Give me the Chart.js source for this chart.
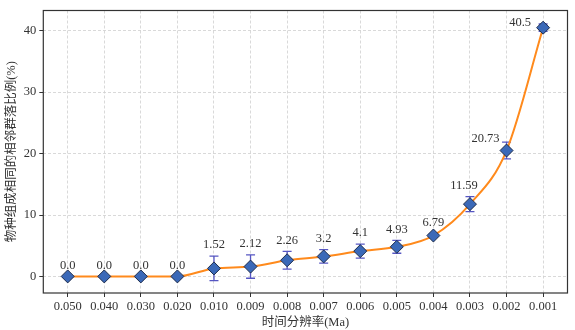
<!DOCTYPE html>
<html><head><meta charset="utf-8">
<script src="https://cdn.jsdelivr.net/npm/chart.js@4"></script>
<style>html,body{margin:0;padding:0;background:#fff}</style>
</head><body>
<canvas id="c" width="575" height="330"></canvas>
<script>
const categories = ['0.050','0.040','0.030','0.020','0.010','0.009','0.008','0.007','0.006','0.005','0.004','0.003','0.002','0.001'];
const meanValues = [0,0,0,0,1.3,1.6,2.63,3.25,4.12,4.82,6.66,11.77,20.5,40.5];
const errValues  = [0,0,0,0,2.0,1.9,1.45,1.1,1.15,1.05,0.3,1.23,1.37,0.6];
const labelTexts = ['0.0','0.0','0.0','0.0','1.52','2.12','2.26','3.2','4.1','4.93','6.79','11.59','20.73','40.5'];
const yTicks = [0,10,20,30,40];
const xTitle = '时间分辨率(Ma)';
const yTitle = '物种组成相同的相邻群落比例(%)';

const serif = "'Liberation Serif','Times New Roman',serif";
const cjk = "'Liberation Serif','Noto Sans CJK SC',serif";

const errorBars = {
  id: 'errorBars',
  beforeDatasetsDraw(chart) {
    const ctx = chart.ctx, xs = chart.scales.x, ys = chart.scales.y;
    ctx.save();
    ctx.strokeStyle = '#5656c2';
    ctx.lineWidth = 1.3;
    meanValues.forEach((v, i) => {
      const e = errValues[i];
      if (!e) return;
      const x = xs.getPixelForValue(i);
      const y1 = ys.getPixelForValue(v + e), y2 = ys.getPixelForValue(v - e);
      ctx.beginPath();
      ctx.moveTo(x, y1); ctx.lineTo(x, y2);
      ctx.moveTo(x - 4.5, y1); ctx.lineTo(x + 4.5, y1);
      ctx.moveTo(x - 4.5, y2); ctx.lineTo(x + 4.5, y2);
      ctx.stroke();
    });
    ctx.restore();
  }
};

const valueLabels = {
  id: 'valueLabels',
  afterDatasetsDraw(chart) {
    const ctx = chart.ctx, xs = chart.scales.x, ys = chart.scales.y;
    const shift = {11: [-6, 0], 12: [-21, 8], 13: [-23, 9.5]};
    ctx.save();
    ctx.font = '12.5px ' + serif;
    ctx.fillStyle = '#333';
    ctx.textAlign = 'center';
    ctx.textBaseline = 'middle';
    labelTexts.forEach((t, i) => {
      const s = shift[i] || [0, 0];
      const x = xs.getPixelForValue(i) + s[0];
      const y = ys.getPixelForValue(meanValues[i] + errValues[i]) - 11 + s[1];
      ctx.fillText(t, x, y);
    });
    ctx.restore();
  }
};

const frame = {
  id: 'frame',
  afterDraw(chart) {
    const a = chart.chartArea, ctx = chart.ctx;
    ctx.save();
    ctx.strokeStyle = '#333';
    ctx.lineWidth = 1.2;
    ctx.strokeRect(a.left, a.top, a.right - a.left, a.bottom - a.top);
    ctx.restore();
  }
};

new Chart(document.getElementById('c'), {
  type: 'line',
  data: {
    labels: categories,
    datasets: [{
      data: meanValues.map((v, i) => ({x: i, y: v})),
      borderColor: '#ff8a1c',
      borderWidth: 2,
      cubicInterpolationMode: 'monotone',
      pointStyle: 'rectRot',
      pointRadius: 6.5,
      pointBackgroundColor: '#3b69b8',
      pointBorderColor: '#1e2c4c',
      pointBorderWidth: 1,
      fill: false
    }]
  },
  options: {
    responsive: false,
    devicePixelRatio: 1,
    animation: false,
    layout: {padding: {top: 5, right: 7, left: 0, bottom: 0}},
    plugins: {legend: {display: false}, tooltip: {enabled: false}},
    scales: {
      x: {
        type: 'linear',
        min: -0.667, max: 13.667,
        afterFit: s => { s.height = 37; },
        ticks: {
          stepSize: 1, includeBounds: false, autoSkip: false, maxRotation: 0, maxTicksLimit: 30,
          padding: 2, color: '#333', font: {family: serif, size: 12.5},
          callback: v => categories[v] !== undefined ? categories[v] : ''
        },
        grid: {color: '#cfcfcf', lineWidth: 0.8, tickLength: 4, tickColor: '#333', tickWidth: 1},
        border: {display: false, dash: [3, 2]},
        title: {display: true, text: xTitle, color: '#333', font: {family: cjk, size: 12.5}, padding: {top: 0, bottom: 0}}
      },
      y: {
        min: -2.7, max: 43.3,
        afterFit: s => { s.width = 43.3; },
        afterBuildTicks: s => { s.ticks = yTicks.map(v => ({value: v})); },
        ticks: {stepSize: 10, includeBounds: false, padding: 3, color: '#333', font: {family: serif, size: 12.5}},
        grid: {color: '#cfcfcf', lineWidth: 0.8, tickLength: 4, tickColor: '#333', tickWidth: 1},
        border: {display: false, dash: [3, 2]},
        title: {display: true, text: yTitle, color: '#333', font: {family: cjk, size: 12.5}, padding: {top: 4, bottom: 4}}
      }
    }
  },
  plugins: [errorBars, valueLabels, frame]
});
</script>
</body></html>
